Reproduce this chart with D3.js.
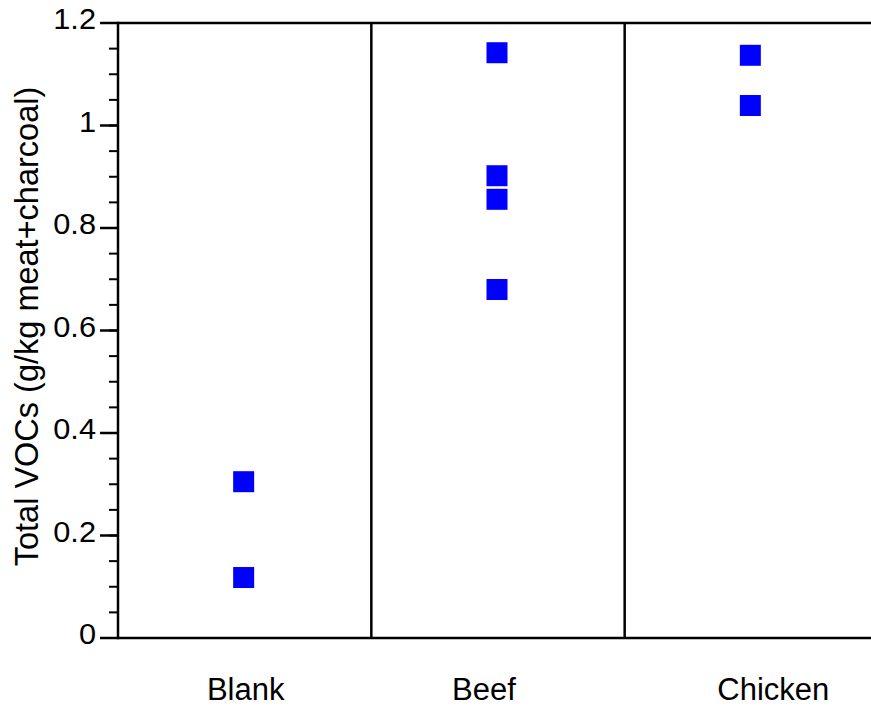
<!DOCTYPE html>
<html>
<head>
<meta charset="utf-8">
<script src="https://cdn.jsdelivr.net/npm/d3@7"></script>
<style>
  html, body { margin: 0; padding: 0; background: #fff; }
  svg { display: block; font-family: "Liberation Sans", Arial, sans-serif; }
</style>
</head>
<body>
<svg id="chart" width="871" height="710"></svg>
<script>
const categories = ["Blank", "Beef", "Chicken"];
const blankValues = [0.305, 0.118];
const beefValues = [1.142, 0.902, 0.856, 0.680];
const chickenValues = [1.137, 1.039];
const yTickValues = [0, 0.2, 0.4, 0.6, 0.8, 1.0, 1.2];
const yTickLabels = ["0", "0.2", "0.4", "0.6", "0.8", "1", "1.2"];
const yTitle = "Total VOCs (g/kg meat+charcoal)";

(function () {
const seriesByCat = { Blank: blankValues, Beef: beefValues, Chicken: chickenValues };
const points = [];
categories.forEach(c => seriesByCat[c].forEach(v => points.push({ cat: c, value: v })));

const svg = d3.select("#chart");
const mLeft = 118, mRight = 878, mTop = 23, mBottom = 638;

const x = d3.scaleBand().domain(categories).range([mLeft, mRight]).paddingInner(0).paddingOuter(0);
const y = d3.scaleLinear().domain([0, 1.2]).range([mBottom, mTop]);

const labelOffset = { Blank: 1, Beef: -14, Chicken: 22 };
const stroke = 2.5;

const minorTicks = d3.range(0, 1.2001, 0.05);
svg.append("g").selectAll("line").data(minorTicks).join("line")
  .attr("x1", mLeft - 9).attr("x2", mLeft)
  .attr("y1", d => y(d)).attr("y2", d => y(d))
  .attr("stroke", "#000").attr("stroke-width", 2);

svg.append("g").selectAll("line").data(yTickValues).join("line")
  .attr("x1", mLeft - 18).attr("x2", mLeft)
  .attr("y1", d => y(d)).attr("y2", d => y(d))
  .attr("stroke", "#000").attr("stroke-width", stroke);

svg.append("g").selectAll("text").data(yTickValues).join("text")
  .attr("transform", d => `translate(${mLeft - 22}, ${y(d) - 4}) scale(1.06, 1)`)
  .attr("dy", "0.36em")
  .attr("text-anchor", "end")
  .attr("font-size", 29)
  .text((d, i) => yTickLabels[i]);

svg.append("line").attr("x1", mLeft).attr("x2", mRight).attr("y1", y(1.2)).attr("y2", y(1.2))
  .attr("stroke", "#000").attr("stroke-width", stroke);
svg.append("line").attr("x1", mLeft).attr("x2", mRight).attr("y1", y(0)).attr("y2", y(0))
  .attr("stroke", "#000").attr("stroke-width", stroke);
svg.append("line").attr("x1", mLeft).attr("x2", mLeft).attr("y1", y(0) + 1.25).attr("y2", y(1.2) - 1.25)
  .attr("stroke", "#000").attr("stroke-width", stroke);

svg.append("g").selectAll("line").data(categories.slice(1)).join("line")
  .attr("x1", d => x(d)).attr("x2", d => x(d))
  .attr("y1", y(0)).attr("y2", y(1.2))
  .attr("stroke", "#000").attr("stroke-width", stroke);

svg.append("g").selectAll("text").data(categories).join("text")
  .attr("x", d => x(d) + x.bandwidth() / 2 + labelOffset[d])
  .attr("y", 700)
  .attr("text-anchor", "middle")
  .attr("font-size", 31)
  .text(d => d);

svg.append("text")
  .attr("transform", `translate(38, 326.5) rotate(-90)`)
  .attr("text-anchor", "middle")
  .attr("font-size", 32.5)
  .text(yTitle);

const s = 21;
svg.append("g").selectAll("rect").data(points).join("rect")
  .attr("x", d => x(d.cat) + x.bandwidth() / 2 - 1 - s / 2)
  .attr("y", d => y(d.value) - s / 2)
  .attr("width", s).attr("height", s)
  .attr("fill", "#0000ff");
})();
</script>
</body>
</html>
